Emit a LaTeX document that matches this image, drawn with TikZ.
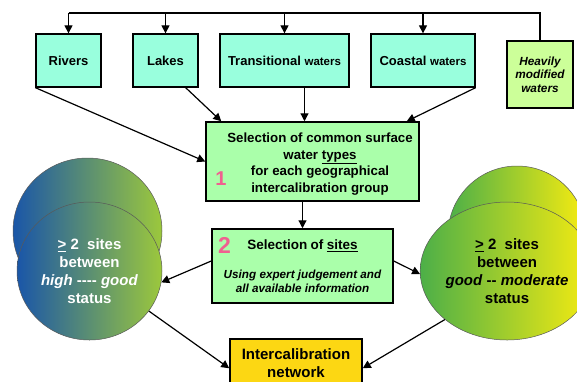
\documentclass[tikz,border=0pt]{standalone}
\usepackage{fontspec}
\setmainfont{Liberation Sans}
\usetikzlibrary{arrows.meta,shapes.geometric}
\tikzset {>={Triangle[length=8pt,width=8pt]}}

\definecolor{waterfill}{HTML}{99FFDD}
\definecolor{heavyfill}{HTML}{CCFF99}
\definecolor{selfill}{HTML}{AAFFAA}
\definecolor{netfill}{HTML}{FCD713}
\definecolor{numpink}{HTML}{F06090}
\definecolor{hgblue}{HTML}{1A56A8}
\definecolor{hggreen}{HTML}{9CC83C}
\definecolor{gmgreen}{HTML}{4CAF48}
\definecolor{gmyellow}{HTML}{F8EC10}

\begin{document}
\begin{tikzpicture}[x=1pt,y=-1pt,
  waterbox/.style={draw,line width=1.3pt,fill=waterfill,minimum height=53pt,inner sep=0pt,
    font=\bfseries\fontsize{13}{15}\selectfont},
  selbox/.style={draw,line width=1.5pt,fill=selfill,inner sep=0pt},
  blob/.style={ellipse,draw=gray!70!black,line width=.5pt,inner sep=0pt},
  blobtext/.style={align=center,font=\bfseries\fontsize{15}{18}\selectfont},
  link/.style={->,line width=1.2pt}]
\useasboundingbox (0,0) rectangle (577,381);

% water categories
\node[waterbox,minimum width=65pt] (rivers) at (68.5,60.5) {Rivers};
\node[waterbox,minimum width=65pt] (lakes) at (165.5,60.5) {Lakes};
\node[waterbox,minimum width=129pt] (trans) at (284.5,60.5) {Transitional {\fontsize{11.5}{14}\selectfont waters}};
\node[waterbox,minimum width=104pt] (coastal) at (423,60.5) {Coastal {\fontsize{11.5}{14}\selectfont waters}};
\node[waterbox,fill=heavyfill,minimum width=66pt,minimum height=67pt,align=center,
  font=\bfseries\itshape\fontsize{11.8}{13.5}\selectfont] (heavy) at (540,74.5) {Heavily\\modified\\waters};

\coordinate (bus) at (0,13);
\draw[line width=1.2pt] (rivers.north |- bus) -- (heavy.north |- bus) -- (heavy.north);
\foreach \w in {rivers,lakes,trans,coastal}
  \draw[link] (\w.north |- bus) -- (\w.north);

% step 1
\node[selbox,minimum width=213pt,minimum height=79pt] (types) at (312.5,161.5) {};
\node[align=center,font=\bfseries\fontsize{13.3}{16.5}\selectfont] (typestext) at (320,164)
  {Selection of common surface\\water \underline{types}\\for each geographical\\intercalibration group};
\node[text=numpink,font=\bfseries\fontsize{20}{20}\selectfont] (num1) at (221,179) {1};

\draw[link] (rivers.south west) -- (types.west);
\draw[link] ([xshift=-13pt]lakes.south east) -- ([xshift=16pt]types.north west);
\draw[link] ([xshift=20pt]trans.south) -- ([xshift=20pt]trans.south |- types.north);
\draw[link] (coastal.south east) -- ([xshift=-13pt]types.north east);

% step 2
\node[selbox,minimum width=181pt,minimum height=74pt] (sites) at (302.5,266) {};
\node[text width=176pt,align=center,font=\bfseries] (sitestext) at (302.5,266)
  {{\fontsize{13.5}{16}\selectfont Selection of \underline{sites}\par}\vspace{15pt}
   {\itshape\fontsize{11.7}{14}\selectfont Using expert judgement and\\all available information\par}};
\node[text=numpink,font=\bfseries\fontsize{23}{23}\selectfont] (num2) at (224.5,245.5) {2};
\draw[link] (types.south -| sites.north) -- (sites.north);

% status classes
\node[blob,left color=hgblue,right color=hggreen,minimum width=149pt,minimum height=146pt] (hgback) at (87.5,231) {};
\node[blob,left color=hgblue,right color=hggreen,minimum width=145pt,minimum height=138pt,
  blobtext,text=white] (hgood) at (89.5,271)
  {\underline{>}~2~~sites\\between\\\textit{high} -{}-{}-{}- \textit{good}\\status};
\node[blob,left color=gmgreen,right color=gmyellow,minimum width=138pt,minimum height=138pt] (gmback) at (517,235) {};
\node[blob,left color=gmgreen,right color=gmyellow,minimum width=138pt,minimum height=138pt,
  blobtext] (gmod) at (507,271)
  {\underline{>}~2~~sites\\between\\\textit{good} -{}- \textit{moderate}\\status};

\draw[link] ([yshift=5pt]sites.west) -- (hgood.-9);
\draw[link] ([yshift=5pt]sites.east) -- (gmod.182);

% network
\node[draw,line width=1.5pt,fill=netfill,anchor=north,minimum width=132pt,inner ysep=10pt,
  align=center,font=\bfseries\fontsize{15}{18}\selectfont] (net) at (296,338) {Intercalibration\\network};
\draw[link] (hgood.-34) -- ([yshift=-5pt]net.north west |- net.west);
\draw[link] (gmod.-142) -- ([yshift=-5pt]net.north east |- net.east);
\end{tikzpicture}
\end{document}
